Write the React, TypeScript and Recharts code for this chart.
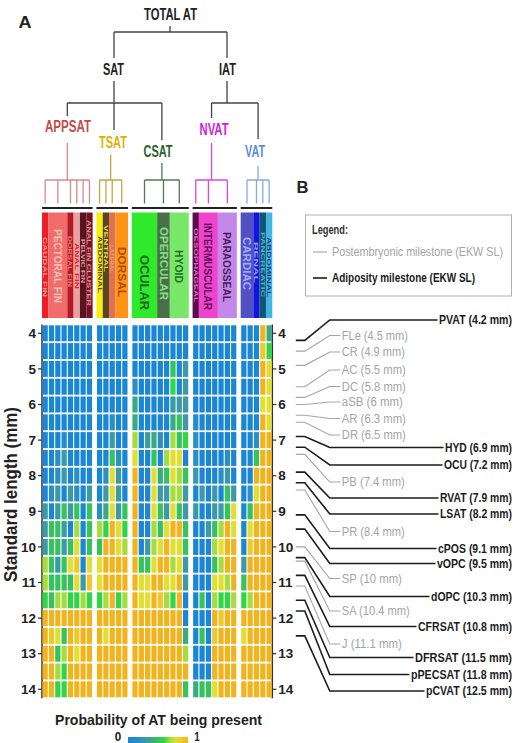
import React from 'react';
import { ScatterChart, Scatter, XAxis, YAxis } from 'recharts';

// ===================== DATA =====================
const STANDARD_LENGTH = [4, 4.5, 5, 5.5, 6, 6.5, 7, 7.5, 8, 8.5, 9, 9.5, 10, 10.5, 11, 11.5, 12, 12.5, 13, 13.5, 14];
const SL_TICKS = [4, 5, 6, 7, 8, 9, 10, 11, 12, 13, 14];

const GROUP_NAMES = ['APPSAT', 'TSAT', 'CSAT', 'NVAT', 'VAT'];

type Depot = [string, number]; // name, number of columns
const APPSAT_DEPOTS: Depot[] = [['CAUDAL FIN', 1], ['PECTORAL FIN', 3], ['DORSAL FIN', 1], ['ANAL FIN', 1], ['PELVIC FIN', 1], ['ANAL FIN CLUSTER', 1]];
const TSAT_DEPOTS: Depot[] = [['ABDOMINAL', 1], ['VENTRAL', 1], ['LATERAL', 1], ['DORSAL', 2]];
const CSAT_DEPOTS: Depot[] = [['OCULAR', 4], ['OPERCULAR', 2], ['HYOID', 3]];
const NVAT_DEPOTS: Depot[] = [['OESOPHAGEAL', 1], ['INTERMUSCULAR', 3], ['PARAOSSEAL', 3]];
const VAT_DEPOTS: Depot[] = [['CARDIAC', 2], ['RENAL', 1], ['PANCREATIC', 1], ['ABDOMINAL', 1]];

// probability of AT being present, in tenths; one row per standard length
const APPSAT_P = [
  [0,0,0,0,0,0,0,0],[0,0,0,0,0,0,0,0],[0,0,0,0,0,0,0,0],[0,0,0,0,0,0,0,0],[0,0,0,0,0,0,0,0],
  [0,0,0,0,0,0,0,0],[0,0,0,1,0,0,0,0],[0,0,2,3,0,0,0,0],[0,0,2,3,0,2,0,0],[0,2,3,0,3,2,0,3],
  [3,0,3,5,3,5,0,5],[3,5,5,3,0,7,0,5],[3,5,5,3,5,8,0,5],[7,5,3,5,8,9,0,8],[7,5,5,5,5,8,3,9],
  [6,5,7,7,6,6,7,6],[10,10,10,10,10,10,10,10],[10,9,8,5,10,9,10,10],[10,10,5,7,10,8,10,10],
  [10,10,7,6,10,10,10,10],[10,10,6,6,10,10,10,10],
];
const TSAT_P = [
  [0,0,0,0,0],[0,0,0,0,0],[0,0,0,0,0],[0,0,0,0,0],[0,0,0,0,0],[0,0,2,0,0],[0,0,3,0,0],
  [0,0,5,2,0],[0,2,8,3,0],[0,3,8,3,0],[2,4,8,3,5],[7,6,10,8,6],[5,10,10,8,7],[8,10,10,10,10],
  [8,10,10,10,10],[6,7,10,6,7],[10,10,10,10,10],[10,8,10,10,10],[10,10,10,10,10],[10,10,10,10,10],[10,10,10,10,10],
];
const CSAT_P = [
  [0,0,0,0,0,0,0,0,0],[0,0,0,0,0,0,0,0,0],[0,0,0,0,0,0,5,0,3],[2,0,0,0,0,0,6,0,3],
  [4,0,0,0,0,0,3,3,3],[4,0,0,0,0,0,4,5,3],[7,0,3,4,2,0,7,5,6],[8,0,0,5,0,7,8,8,0],
  [10,0,0,8,4,5,8,7,5],[10,0,0,8,3,3,7,7,3],[10,0,0,8,5,3,8,5,3],[10,0,0,7,5,8,10,10,5],
  [10,0,3,7,8,10,8,8,5],[10,5,5,8,10,10,7,8,3],[10,8,8,10,10,8,8,10,3],[10,8,8,10,9,7,6,10,0],
  [10,10,10,10,10,10,10,10,0],[10,10,10,10,10,10,10,10,4],[10,10,10,10,10,10,10,10,7],
  [10,10,10,10,10,10,10,10,10],[10,10,10,10,10,10,10,10,5],
];
const NVAT_P = [
  [0,0,0,0,0,0,0],[0,0,0,0,0,0,0],[0,0,0,0,0,0,0],[0,0,0,0,0,0,0],[0,0,0,0,0,0,0],[1,0,0,0,0,0,0],
  [2,0,0,0,0,0,0],[2,0,0,0,0,2,0],[3,0,0,0,2,3,0],[0,3,0,3,0,5,3],[3,0,0,3,3,5,8],
  [0,0,3,5,7,10,8],[0,0,0,7,8,10,10],[0,0,0,5,7,10,10],[0,0,0,8,8,7,10],[0,5,0,7,6,6,7],
  [0,0,0,10,9,10,10],[0,5,0,9,10,10,10],[0,0,0,10,10,10,10],[0,0,0,10,10,10,10],[4,5,5,8,10,10,10],
];
const VAT_P = [
  [0,0,0,10,4],[0,0,0,9,6],[0,0,0,10,8],[0,0,0,10,8],[0,0,0,8,8],[0,0,0,10,8],[0,0,2,10,10],
  [0,0,5,10,10],[0,0,10,10,10],[0,2,8,10,10],[0,5,10,10,10],[0,8,10,10,10],[0,9,10,10,10],
  [3,10,10,10,10],[5,10,10,10,10],[6,7,10,10,10],[10,10,10,10,10],[8,10,10,10,10],
  [10,10,10,10,10],[10,10,10,10,10],[10,10,10,10,10],
];

const POSTEMBRYONIC: [string, number][] = [
  ['FLe', 4.5], ['CR', 4.9], ['AC', 5.5], ['DC', 5.8], ['aSB', 6], ['AR', 6.3], ['DR', 6.5],
  ['PB', 7.4], ['PR', 8.4], ['SP', 10], ['SA', 10.4], ['J', 11.1],
];
const ADIPOSITY: [string, number][] = [
  ['PVAT', 4.2], ['HYD', 6.9], ['OCU', 7.2], ['RVAT', 7.9], ['LSAT', 8.2], ['cPOS', 9.1], ['vOPC', 9.5],
  ['dOPC', 10.3], ['CFRSAT', 10.8], ['DFRSAT', 11.5], ['pPECSAT', 11.8], ['pCVAT', 12.5],
];

// ===================== LAYOUT / STYLE =====================
const FONT = "'Liberation Sans Narrow','Arial Narrow','Liberation Sans',Arial,sans-serif";
const W = 519, H = 743;
const PLOT = { l: 42, r: 272.3, t: 324.4, b: 698.2 };
const Y_DOMAIN: [number, number] = [3.75, 14.25];
const GAP = 0.6;
const LABEL_RIGHT = 512;
const NARROW = 0.82;

const GROUP_DEPOTS = [APPSAT_DEPOTS, TSAT_DEPOTS, CSAT_DEPOTS, NVAT_DEPOTS, VAT_DEPOTS];
const GROUP_P = [APPSAT_P, TSAT_P, CSAT_P, NVAT_P, VAT_P];
const groupCols = GROUP_DEPOTS.map(d => d.reduce((s, x) => s + x[1], 0));
const groupStart: number[] = [];
let accCols = 0;
groupCols.forEach((n, g) => { groupStart.push(accCols + g * GAP); accCols += n; });
const X_MAX = accCols + GAP * (groupCols.length - 1);
const COL_W = (PLOT.r - PLOT.l) / X_MAX;
const ROW_H = ((PLOT.b - PLOT.t) / (Y_DOMAIN[1] - Y_DOMAIN[0])) * 0.5;
const colX = (u: number) => PLOT.l + u * COL_W;

const GROUP_LABEL_COLOR = ['#c44a4a', '#dfb000', '#2d5e2d', '#d21ee0', '#5a8de0'];
const GROUP_TREE_COLOR = ['#d88a8a', '#c0a84a', '#4f7d4f', '#d846e6', '#88a8e8'];
// label pos [x, y, textLength]
const GROUP_LABEL_POS: [number, number, number][] = [[68, 127, 46], [113, 142.5, 28], [158, 152, 29], [214, 130, 29], [255, 152, 20]];
const GROUP_STEM_TOP = [143, 155, 163, 143, 166];

// per depot: [bar fill, text color, font size, text center y, text length]
type SegStyle = [string, string, number, number, number];
const SEG_STYLE: SegStyle[][] = [
  [['#ee1c24', '#f7a0a0', 5.5, 267, 60], ['#f26b6b', '#f9c4b8', 11, 266, 74], ['#b51a22', '#f07878', 5.5, 261.5, 51],
   ['#e8a0a0', '#e82020', 5.5, 266, 46], ['#5a1420', '#e0a0a0', 5.5, 261, 44], ['#7a1028', '#e49090', 5.5, 263, 86]],
  [['#f6ee10', '#5a4a10', 5.5, 264.5, 57], ['#5a4620', '#e8d850', 5.5, 248.5, 47], ['#e07050', '#f0a070', 5.5, 259, 28],
   ['#ff9414', '#b04a00', 10, 272, 50]],
  [['#2eea2a', '#1e6a1e', 12, 282.5, 55], ['#4a6e48', '#80e080', 10, 263.5, 73], ['#78e868', '#207020', 11, 266.5, 33]],
  [['#5a0a4a', '#e070c0', 5.5, 265.5, 75], ['#f044d0', '#5a1050', 11, 266.5, 87], ['#c488ea', '#4a1a5a', 11, 267, 70]],
  [['#5050c0', '#a0a8ff', 11, 263.5, 53], ['#1414e0', '#a0a0ff', 5.5, 262.5, 41], ['#105870', '#50b0d0', 5.5, 264.5, 65],
   ['#44b4e4', '#104080', 5.5, 267, 60]],
];

// milestone label placement: [center y, text length]
const LABEL_LAYOUT: Record<string, [number, number]> = {
  PVAT: [320, 73], FLe: [335.5, 66], CR: [352, 63], AC: [370, 64], DC: [386.5, 64], aSB: [402, 61],
  AR: [418.5, 64], DR: [435, 64], HYD: [447.5, 67], OCU: [465, 68], PB: [482, 63], RVAT: [498, 72],
  LSAT: [514, 72], PR: [531.5, 63], cPOS: [548.5, 74], vOPC: [563.5, 75], SP: [578.5, 60],
  dOPC: [596.5, 81], SA: [611, 68], CFRSAT: [626.5, 94], J: [644, 60], DFRSAT: [657.5, 97],
  pPECSAT: [674.5, 101], pCVAT: [691, 86],
};

const STOPS: [number, string][] = [
  [0, '#1a86d6'], [0.2, '#2b8fc6'], [0.3, '#3a9aa8'], [0.4, '#39ab82'], [0.5, '#35c35c'],
  [0.6, '#30d646'], [0.7, '#a6dc3c'], [0.8, '#e2df30'], [0.9, '#f0c828'], [1, '#f2b41e'],
];
const hex = (c: string) => [1, 3, 5].map(i => parseInt(c.slice(i, i + 2), 16));
function colorFor(v: number) {
  for (let i = 1; i < STOPS.length; i++) {
    if (v <= STOPS[i][0]) {
      const [a0, c0] = STOPS[i - 1];
      const [a1, c1] = STOPS[i];
      const t = (v - a0) / (a1 - a0);
      const x = hex(c0), y = hex(c1);
      return `rgb(${x.map((q, k) => Math.round(q + (y[k] - q) * t)).join(',')})`;
    }
  }
  return STOPS[STOPS.length - 1][1];
}

// condensed text: drawn at full size and squeezed horizontally to a target width
function NarrowText({ x, y, w, fs, fill, weight = 700, anchor = 'start', children }: any) {
  return (
    <text transform={`translate(${x} ${y}) scale(${NARROW} 1)`} x={0} y={0} textAnchor={anchor}
      dominantBaseline="central" fontSize={fs} fontWeight={weight} fill={fill} fontFamily={FONT}
      textLength={w / NARROW} lengthAdjust="spacingAndGlyphs">{children}</text>
  );
}

// ===================== SERIES DATA =====================
const cells: { x: number; y: number; p: number }[] = [];
GROUP_P.forEach((rows, g) =>
  rows.forEach((row, r) =>
    row.forEach((v, j) => cells.push({ x: groupStart[g] + j + 0.5, y: STANDARD_LENGTH[r], p: v / 10 }))));

const milestones = [
  ...POSTEMBRYONIC.map(([name, sl]) => ({ x: X_MAX, y: sl, name, kind: 'post' })),
  ...ADIPOSITY.map(([name, sl]) => ({ x: X_MAX, y: sl, name, kind: 'adip' })),
];

const CellShape = (props: any) => {
  const { cx, cy, payload } = props;
  if (cx == null || cy == null) return null;
  return (
    <rect x={cx - COL_W / 2 + 0.55} y={cy - ROW_H / 2 + 0.9} width={COL_W - 1.1} height={ROW_H - 1.8}
      fill={colorFor(payload.p)} />
  );
};

const LeaderShape = (props: any) => {
  const { cx, cy, payload } = props;
  if (cx == null || cy == null) return null;
  const [ly, w] = LABEL_LAYOUT[payload.name];
  const post = payload.kind === 'post';
  const x0 = cx + 23.5, x1 = x0 + 9, x2 = x0 + 34;
  const textStart = post ? x2 + 12 : LABEL_RIGHT - w;
  const color = post ? '#a4a4a4' : '#1c1c1c';
  return (
    <g>
      <path d={`M${x0},${cy}H${x1}L${x2},${ly}H${textStart - 1.5}`} fill="none" stroke={color}
        strokeWidth={post ? 1.1 : 1.6} />
      <NarrowText x={textStart} y={ly} w={w} fs={12.5} fill={color} weight={post ? 400 : 700}>
        {`${payload.name} (${payload.y} mm)`}
      </NarrowText>
    </g>
  );
};

const tickStyle = { fontSize: 13.5, fontWeight: 700, fill: '#222', fontFamily: FONT };

function Overlay() {
  const elems: React.ReactNode[] = [];
  const mids: number[] = [];
  GROUP_DEPOTS.forEach((depots, g) => {
    let u = groupStart[g];
    const centers: number[] = [];
    depots.forEach(([name, n], k) => {
      const x0 = colX(u), x1 = colX(u + n);
      const [fill, tc, fs, ty, tl] = SEG_STYLE[g][k];
      const cx = (x0 + x1) / 2;
      centers.push(cx);
      elems.push(<rect key={`b${g}-${k}`} x={x0} y={212.5} width={x1 - x0} height={105.5} fill={fill} />);
      elems.push(
        <text key={`t${g}-${k}`} x={cx} y={ty} transform={`rotate(90 ${cx} ${ty})`} textAnchor="middle"
          dominantBaseline="central" fontSize={fs} fontWeight={700} fill={tc} fontFamily={FONT}
          textLength={tl} lengthAdjust="spacingAndGlyphs">{name}</text>);
      u += n;
    });
    const gx0 = colX(groupStart[g]), gx1 = colX(groupStart[g] + groupCols[g]);
    elems.push(<line key={`s${g}`} x1={gx0} x2={gx1} y1={208} y2={208} stroke="#222" strokeWidth={1.8} />);
    const c0 = centers[0], c1 = centers[centers.length - 1];
    const mid = (c0 + c1) / 2;
    mids.push(mid);
    const tc = GROUP_TREE_COLOR[g];
    let d = `M${c0},180H${c1}M${mid},${GROUP_STEM_TOP[g]}V180`;
    centers.forEach(c => { d += `M${c},180V203.5`; });
    elems.push(<path key={`d${g}`} d={d} fill="none" stroke={tc} strokeWidth={1.3} />);
    const [lx, lyy, lw] = GROUP_LABEL_POS[g];
    elems.push(
      <NarrowText key={`g${g}`} x={lx} y={lyy} w={lw} fs={16} fill={GROUP_LABEL_COLOR[g]} anchor="middle">
        {GROUP_NAMES[g]}
      </NarrowText>);
  });

  const topTree = `M170,26V32M114,32H227M114,32V58M227,32V58` +
    `M114,81V130M${mids[0]},103H${mids[2]}M${mids[0]},103V116M${mids[2]},103V140` +
    `M227,81V103M${mids[3]},103H${mids[4]}M${mids[3]},103V118M${mids[4]},103V139`;

  const gradStops = STOPS.map(([o, c]) => <stop key={o} offset={`${o * 100}%`} stopColor={c} />);

  const bold = (x: number, y: number, s: string, fs: number, tl: number) => (
    <NarrowText x={x} y={y} w={tl} fs={fs} fill="#222" anchor="middle">{s}</NarrowText>
  );

  return (
    <svg width={W} height={H} style={{ position: 'absolute', left: 0, top: 0, pointerEvents: 'none' }}>
      <defs>
        <linearGradient id="cbar" x1="0" x2="1" y1="0" y2="0">{gradStops}</linearGradient>
      </defs>
      {bold(25, 23, 'A', 16, 13)}
      {bold(302.5, 188, 'B', 16, 12)}
      {bold(170.5, 14.5, 'TOTAL AT', 16, 53)}
      {bold(113.5, 70, 'SAT', 16, 21)}
      {bold(227.5, 70, 'IAT', 16, 17)}
      <path d={topTree} fill="none" stroke="#444" strokeWidth={1.3} />
      {elems}
      <g transform="rotate(-90 10 494.5)">{bold(10, 494.5, 'Standard length (mm)', 19, 175)}</g>
      {bold(158.5, 720, 'Probability of AT being present', 14, 207)}
      <rect x={128} y={737} width={60} height={10} fill="url(#cbar)" />
      {bold(118, 736.5, '0', 12, 6.5)}
      {bold(197, 736.5, '1', 12, 5.5)}
      <rect x={305.5} y={215} width={206} height={81} fill="none" stroke="#b0b0b0" strokeWidth={1} />
      <NarrowText x={312} y={230} w={36} fs={12} fill="#333">Legend:</NarrowText>
      <line x1={313} x2={327} y1={252} y2={252} stroke="#a4a4a4" strokeWidth={1.1} />
      <NarrowText x={332} y={252} w={171} fs={12.5} fill="#a4a4a4" weight={400}>Postembryonic milestone (EKW SL)</NarrowText>
      <line x1={313} x2={327} y1={278} y2={278} stroke="#1c1c1c" strokeWidth={1.6} />
      <NarrowText x={332} y={278} w={143} fs={12.5} fill="#1c1c1c">Adiposity milestone (EKW SL)</NarrowText>
    </svg>
  );
}

export default function App() {
  const AXW = 30;
  return (
    <div style={{ position: 'absolute', left: 0, top: 0, width: W, height: H, background: '#fff', overflow: 'hidden' }}>
      <ScatterChart width={W} height={H}
        margin={{ top: PLOT.t, bottom: H - PLOT.b, left: PLOT.l - AXW, right: W - PLOT.r - AXW }}>
        <XAxis type="number" dataKey="x" domain={[0, X_MAX]} hide />
        <YAxis yAxisId="l" type="number" dataKey="y" domain={Y_DOMAIN} reversed ticks={SL_TICKS} interval={0}
          width={AXW} tickSize={4} tickMargin={2} tick={tickStyle}
          axisLine={{ stroke: '#333', strokeWidth: 1.5 }} tickLine={{ stroke: '#333', strokeWidth: 1.2 }} />
        <YAxis yAxisId="r" orientation="right" type="number" dataKey="y" domain={Y_DOMAIN} reversed ticks={SL_TICKS}
          interval={0} width={AXW} tickSize={4} tickMargin={2} tick={tickStyle}
          axisLine={{ stroke: '#333', strokeWidth: 1.5 }} tickLine={{ stroke: '#333', strokeWidth: 1.2 }} />
        <Scatter yAxisId="l" data={cells} shape={CellShape} isAnimationActive={false} />
        <Scatter yAxisId="r" data={milestones} shape={LeaderShape} isAnimationActive={false} />
      </ScatterChart>
      <Overlay />
    </div>
  );
}
